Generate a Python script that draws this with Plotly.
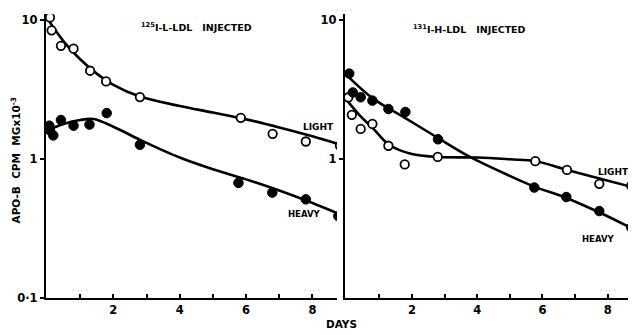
import plotly.graph_objects as go

# the page adds its own margins around the figure, and the capture squeezes it a little vertically;
# these constants map target picture pixels onto the figure's paper coordinates
OFFX = 8
PAGE_Y0, SY = 1.5, 0.971
W, H = 620, 329

# ---- data: left panel (125I-L-LDL injected) ----
L_light_days = [0.09, 0.14, 0.42, 0.80, 1.30, 1.78, 2.80, 5.84, 6.80, 7.80, 8.83]
L_light_vals = [10.4, 8.4, 6.5, 6.2, 4.3, 3.6, 2.78, 1.97, 1.51, 1.33, 1.24]
L_heavy_days = [0.07, 0.09, 0.19, 0.42, 0.80, 1.28, 1.80, 2.80, 5.77, 6.79, 7.80, 8.78]
L_heavy_vals = [1.73, 1.60, 1.47, 1.90, 1.73, 1.76, 2.13, 1.26, 0.67, 0.57, 0.51, 0.386]

# fitted curves (left)
L_light_fit_days = [0.0, 0.5, 1.0, 1.5, 2.0, 2.8, 4.0, 5.0, 6.0, 7.0, 8.0, 8.8]
L_light_fit_vals = [10.3, 7.0, 5.2, 4.1, 3.4, 2.8, 2.4, 2.15, 1.92, 1.68, 1.45, 1.27]
L_heavy_fit_days = [0.0, 0.5, 1.0, 1.4, 2.0, 2.8, 4.0, 5.0, 6.0, 7.0, 8.0, 8.8]
L_heavy_fit_vals = [1.60, 1.78, 1.90, 1.93, 1.70, 1.37, 1.02, 0.84, 0.71, 0.59, 0.48, 0.40]

# ---- data: right panel (131I-H-LDL injected) ----
R_light_days = [0.05, 0.16, 0.43, 0.79, 1.28, 1.78, 2.79, 5.78, 6.75, 7.74, 8.72]
R_light_vals = [2.76, 2.07, 1.64, 1.78, 1.24, 0.91, 1.03, 0.96, 0.83, 0.66, 0.64]
R_heavy_days = [0.08, 0.19, 0.43, 0.79, 1.28, 1.80, 2.80, 5.75, 6.73, 7.74, 8.72]
R_heavy_vals = [4.1, 3.0, 2.77, 2.62, 2.28, 2.17, 1.38, 0.62, 0.53, 0.42, 0.32]

R_light_fit_days = [0.0, 0.4, 0.8, 1.3, 2.0, 2.8, 4.0, 5.0, 5.8, 6.75, 7.75, 8.8]
R_light_fit_vals = [2.65, 2.05, 1.66, 1.26, 1.08, 1.03, 1.02, 0.99, 0.96, 0.83, 0.72, 0.62]
R_heavy_fit_days = [0.0, 0.8, 1.8, 2.8, 3.75, 4.8, 5.75, 6.75, 7.75, 8.8]
R_heavy_fit_vals = [4.0, 2.72, 1.96, 1.41, 1.04, 0.79, 0.63, 0.52, 0.41, 0.31]

x_major_ticks = [2, 4, 6, 8]
x_minor_ticks = [1, 3, 5, 7]

FONT = "DejaVu Sans"


def px(x):
    return (x - OFFX) / W


def py(y):
    f = (y - PAGE_Y0) / SY - 8
    return 1 - f / H


fig = go.Figure()


def add_panel(xa, ya, light_d, light_v, heavy_d, heavy_v, lfd, lfv, hfd, hfv):
    for d, v in ((lfd, lfv), (hfd, hfv)):
        fig.add_trace(go.Scatter(x=d, y=v, mode="lines",
                                 line=dict(color="black", width=2.6, shape="spline", smoothing=1.0),
                                 xaxis=xa, yaxis=ya, showlegend=False, hoverinfo="skip"))
    fig.add_trace(go.Scatter(x=light_d, y=light_v, mode="markers",
                             marker=dict(symbol="circle", size=8.5, color="white",
                                         line=dict(color="black", width=1.8)),
                             xaxis=xa, yaxis=ya, showlegend=False))
    fig.add_trace(go.Scatter(x=heavy_d, y=heavy_v, mode="markers",
                             marker=dict(symbol="circle", size=9.5, color="black",
                                         line=dict(color="black", width=1)),
                             xaxis=xa, yaxis=ya, showlegend=False))


add_panel("x", "y", L_light_days, L_light_vals, L_heavy_days, L_heavy_vals,
          L_light_fit_days, L_light_fit_vals, L_heavy_fit_days, L_heavy_fit_vals)
add_panel("x2", "y2", R_light_days, R_light_vals, R_heavy_days, R_heavy_vals,
          R_light_fit_days, R_light_fit_vals, R_heavy_fit_days, R_heavy_fit_vals)

yrange = [-1, 1.04]
ydom = [py(296.5), py(14.5)]

common_x = dict(tickmode="array", tickvals=x_major_ticks, ticktext=[str(v) for v in x_major_ticks],
                ticks="inside", ticklen=4, tickwidth=2, tickcolor="black",
                minor=dict(tickmode="array", tickvals=x_minor_ticks, ticks="inside", ticklen=4,
                           tickwidth=2, tickcolor="black", showgrid=False),
                showline=True, linecolor="black", linewidth=2.2, showgrid=False, zeroline=False,
                tickfont=dict(family=FONT, size=11.5, color="black", weight="bold"))
common_y = dict(type="log", range=yrange, domain=ydom, ticks="outside", ticklen=4, tickwidth=2,
                tickcolor="black", showline=True, linecolor="black", linewidth=2.2, showgrid=False,
                zeroline=False, tickfont=dict(family=FONT, size=11.5, color="black", weight="bold"))

fig.update_layout(
    width=W, height=H,
    margin=dict(l=0, r=0, t=0, b=0),
    paper_bgcolor="white", plot_bgcolor="white",
    xaxis=dict(domain=[px(46), px(337)], range=[-0.03, 8.74], anchor="y", **common_x),
    xaxis2=dict(domain=[px(345), 1.0], range=[-0.05, 8.62], anchor="y2", **common_x),
    yaxis=dict(anchor="x", tickmode="array", tickvals=[0.1, 1, 10], ticktext=["0·1", "1", "10"], **common_y),
    yaxis2=dict(anchor="x2", tickmode="array", tickvals=[1, 10], ticktext=["1", "10"], **common_y),
)


def ann(text, x, y, size=9, xanchor="center", angle=0):
    fig.add_annotation(text=text, x=px(x), y=py(y), xref="paper", yref="paper", showarrow=False,
                       xanchor=xanchor, yanchor="middle", textangle=angle,
                       font=dict(family=FONT, size=size, color="black", weight="bold"))


ann("<sup>125</sup>I-L-LDL   INJECTED", 139, 27, size=9.5, xanchor="left")
ann("<sup>131</sup>I-H-LDL   INJECTED", 411, 29, size=9.5, xanchor="left")
ann("LIGHT", 301, 127, size=9, xanchor="left")
ann("HEAVY", 286, 213, size=8.5, xanchor="left")
ann("LIGHT", 596, 171, size=9, xanchor="left")
ann("HEAVY", 580, 238, size=8.5, xanchor="left")
ann("APO-B  CPM  MGx10<sup>-3</sup>", 15, 160, size=10.5, angle=-90)
ann("DAYS", 341, 323, size=10.5)

fig.write_html("out.html")
